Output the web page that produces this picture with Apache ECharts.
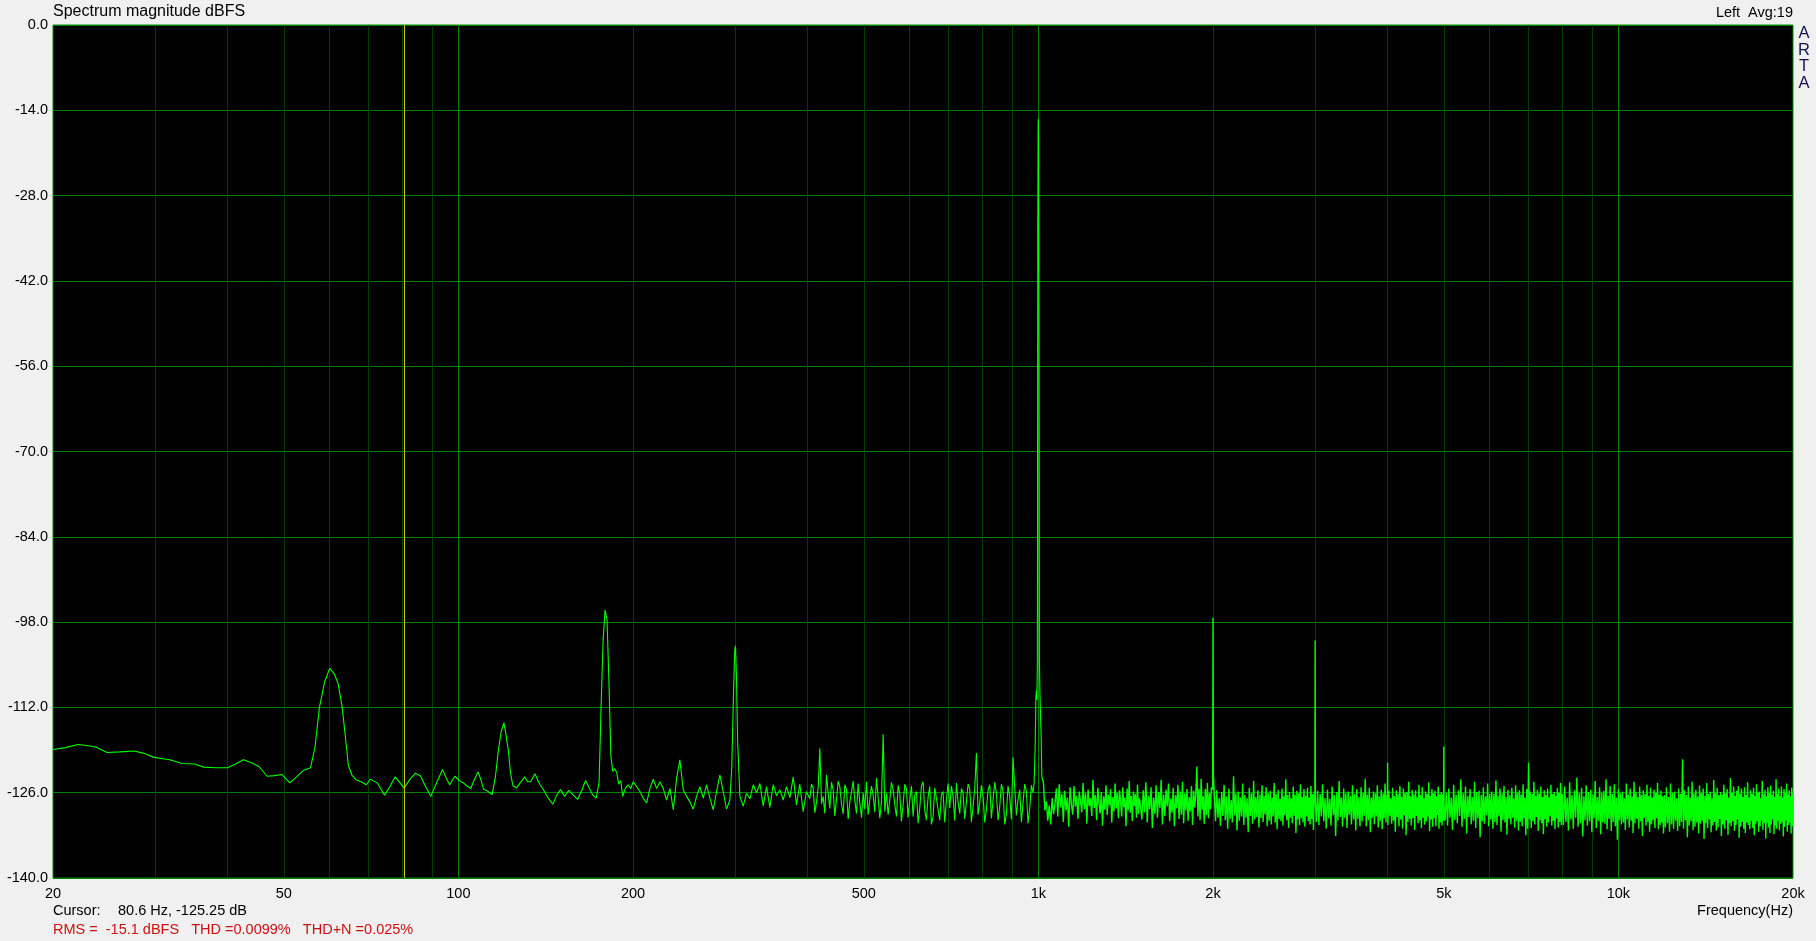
<!DOCTYPE html>
<html><head><meta charset="utf-8">
<script src="https://cdn.jsdelivr.net/npm/echarts@6.0.0/dist/echarts.min.js"></script>
<style>html,body{margin:0;padding:0;background:#f0f0f0;}#c{width:1816px;height:941px;}</style>
</head><body><div id="c"></div>
<script>
// ---------- DATA ----------
const xTickVals = [20, 50, 100, 200, 500, 1000, 2000, 5000, 10000, 20000];
const xTickText = ['20', '50', '100', '200', '500', '1k', '2k', '5k', '10k', '20k'];
const minorLines = [30, 40, 50, 60, 70, 80, 90, 200, 300, 400, 500, 600, 700, 800, 900, 2000, 3000, 4000, 5000, 6000, 7000, 8000, 9000];
const decadeLines = [100, 1000, 10000];
const cursorFreq = 80.6;

// 20 - 200 Hz (hum harmonics 60/120/180 Hz)
const lowPts = [[20,-118.9],[21,-118.6],[22.1,-118.1],[23,-118.3],[23.7,-118.5],[24.8,-119.4],[26.1,-119.3],[27.6,-119.15],[28.6,-119.5],[29.9,-120.2],[31.8,-120.6],[33.4,-121.2],[35.1,-121.3],[36.4,-121.8],[38.2,-121.9],[40,-121.9],[41.3,-121.3],[42.6,-120.6],[44,-121.1],[45.3,-121.7],[46.8,-123.3],[48.2,-123.2],[49.6,-123.0],[51.2,-124.4],[52.6,-123.4],[54.1,-122.3],[55.6,-121.9],[56.6,-118.5],[57.6,-112],[58.8,-107.8],[60,-105.6],[61,-106.4],[62,-108],[63,-111.8],[63.8,-116.5],[64.6,-121.5],[65.5,-123.1],[66.7,-123.9],[68,-124.2],[69.4,-124.7],[70.5,-123.8],[71.5,-124.1],[72.5,-124.4],[73.5,-125.4],[74.6,-126.4],[76.2,-125],[77.8,-123.4],[79.2,-124.3],[80.6,-125.25],[82.4,-123.9],[84.3,-122.8],[86,-123.2],[87.8,-125],[89.6,-126.6],[91.8,-124.3],[93.9,-122.2],[95.2,-123.5],[96.6,-124.7],[98.6,-123.3],[100.3,-124],[102,-124.4],[103.5,-124.9],[105,-125.3],[106.6,-123.8],[108.1,-122.6],[109.3,-123.8],[110.5,-125.4],[112.5,-125.8],[114.3,-126.3],[115.8,-123.5],[117.2,-119],[118.5,-116],[119.8,-114.5],[120.8,-116.5],[121.9,-119],[123,-122.8],[124.2,-124.9],[126,-125.2],[128,-124.3],[130.1,-123.4],[131.6,-124.2],[133.2,-124.2],[135.5,-122.9],[137.9,-124.5],[140.3,-125.6],[142.9,-126.9],[145.5,-127.9],[147.8,-126.4],[150,-125.5],[152.5,-126.6],[155,-125.6],[157.5,-126.3],[160.5,-127.1],[163.2,-125.6],[165.7,-124],[168,-125.2],[170.5,-126.4],[172.8,-126.9],[174.8,-124.3],[176.2,-112],[177.6,-101],[179,-96],[180.4,-97.6],[181.8,-108],[183.2,-120],[184.5,-122.5],[186,-122.1],[187.5,-122.7],[189,-124.6],[190.5,-124],[192,-126.6],[194,-125.3],[196.2,-124.7],[198.2,-125.3]];

// 200 - 980 Hz
const midPts = [[200.2,-124.2],[202.9,-125],[205.6,-125.8],[208.3,-126.9],[211.1,-127.7],[213.9,-125.3],[216.7,-123.8],[219.6,-125.3],[222.6,-124.2],[225.5,-125.3],[228.5,-127.2],[231.6,-125.3],[234.7,-128.8],[237.8,-123.6],[240.9,-120.6],[244.1,-125.5],[247.4,-126.6],[250.7,-127.5],[254,-128.7],[257.4,-126.6],[260.8,-125],[264.3,-126.9],[267.8,-124.7],[271.4,-126.9],[275,-128.8],[278.7,-125.8],[282.4,-123.1],[286.1,-125.8],[289.9,-128.7],[293.8,-127.2],[296,-122],[298,-110],[299.5,-102.6],[300.4,-101.9],[301.6,-107],[303,-117.5],[305.7,-126.6],[309.8,-128.2],[313.9,-126.1],[318.1,-127],[322.3,-124.7],[326.6,-126],[331,-124.5],[335.4,-128.2],[339.8,-125],[344.3,-128.4],[348.9,-124.7],[353.6,-126.5],[358.3,-125.5],[363.1,-127.2],[367.9,-125],[372.8,-126.8],[377.8,-123.4],[382.8,-128],[387.8,-124.6],[393,-129.1],[398.2,-125.8],[403.5,-127],[408.9,-125.2],[414.4,-127.5],[419.9,-118.7],[425.5,-126.6],[431.2,-123.1],[436.9,-128.6],[442.7,-125.5],[448.6,-127.2],[454.6,-125],[460.6,-129.5],[466.8,-125.5],[473,-127.5],[479.3,-124.1],[485.7,-129.4],[492.1,-127.7],[498.7,-126],[505.3,-124.2],[512,-127.2],[518.9,-126.4],[525.8,-123.6],[532.8,-130.2],[539.9,-116.4],[547.1,-126.1],[554.3,-127.2],[561.7,-125.5],[569.2,-129.9],[576.7,-126.1],[584.4,-128],[592.2,-125.3],[600.1,-127.2],[608.1,-129.9],[616.2,-125.8],[624.4,-128.5],[632.7,-124.2],[641.1,-130.5],[649.6,-125],[658.3,-129.9],[667.1,-126.9],[675.9,-130.5],[684.9,-125.8],[694.1,-127.2],[703.3,-128.5],[712.7,-126.6],[722.2,-124.4],[731.8,-129.4],[741.5,-126.1],[751.4,-127.5],[761.4,-125.3],[771.5,-128.3],[781.8,-119.5],[792.2,-127.7],[802.8,-126.6],[813.5,-128.8],[824.3,-124.7],[835.3,-127.2],[846.4,-126.1],[857.6,-128.3],[869,-125.8],[880.6,-129.5],[892.3,-126.6],[904.2,-120.2],[916.3,-129.7],[928.5,-125.5],[940.8,-127.7],[953.4,-125.8],[966.1,-128.6],[978.9,-126]];
const midPts2 = [[406.2,-124.6],[411.6,-129.3],[417.2,-125.1],[422.7,-127.8],[428.3,-129.4],[434.1,-126.2],[439.8,-124.3],[445.6,-129.8],[451.6,-124.1],[457.6,-127.9],[463.7,-124.7],[469.9,-130.3],[476.1,-125.9],[482.5,-127.3],[488.9,-124.5],[495.4,-130.1],[502,-128.7],[508.7,-129.6],[515.4,-124.9],[522.3,-129.2],[529.3,-126.8],[536.3,-127.5],[543.5,-129.1],[550.7,-129.6],[558,-124.3],[565.4,-127.9],[573,-124.8],[580.5,-130.7],[588.3,-124.6],[596.1,-130.1],[604.1,-124.9],[612.1,-126.4],[620.3,-131],[628.5,-124.9],[636.9,-128.9],[645.4,-126.7],[653.9,-131.2],[662.7,-125.2],[671.5,-128.8],[680.4,-126.3],[689.4,-130.9],[698.7,-124.5],[708,-124.9],[717.4,-130.6],[727,-127.6],[736.7,-125.3],[746.4,-130.3],[756.4,-124.6],[766.5,-130.8],[776.6,-125.4],[787,-129.6],[797.5,-124.8],[808.1,-130.9],[818.9,-125.6],[829.8,-130.2],[840.8,-124.3],[852,-130.5],[863.3,-124.6],[874.8,-131.2],[886.4,-124.9],[898.2,-130.4],[910.2,-125.2],[922.4,-127.1],[934.7,-130.8],[947,-124.6],[959.7,-131],[972.5,-124.8]];

// 1 kHz test tone
const fundamentalPts = [[983,-124.5],[987,-119],[990,-110.5],[992,-109.2],[994,-110.8],[996,-104],[997.5,-33.3],[999,-16.5],[1000,-15.4],[1001,-21],[1002.5,-48.6],[1004,-104],[1006,-109.6],[1008,-112.5],[1011,-117],[1014,-123.5]];

// distortion harmonics
const harmonicPts = [[1997,-125.5],[2000,-97.3],[2003,-123],[2997,-127],[3000,-101],[3003,-127.5],[3997,-127],[4000,-121.1],[4003,-128],[4996,-127],[5000,-118.4],[5004,-128]];

// noise floor, 1 k - 20 k
const band1kF = [1020,1026,1032,1038,1044,1050,1056,1062,1068,1074,1080,1086,1092,1098,1104,1110,1116,1122,1128,1134,1140,1146,1152,1158,1164,1170,1176,1182,1188,1194,1200,1206,1212,1218,1224,1230,1236,1242,1248,1254,1260,1266,1272,1278,1284,1290,1296,1302,1308,1314,1320,1326,1332,1338,1344,1350,1356,1362,1368,1374,1380,1386,1392,1398,1404,1410,1416,1422,1428,1434,1440,1446,1452,1458,1464,1470,1476,1482,1488,1494,1500];
const band1kV = [-124.2,-128.9,-127.4,-130.6,-128.1,-131.2,-126.9,-129.5,-127.8,-125.3,-129.9,-124.6,-128.4,-126.2,-130.8,-125.7,-128.9,-126.8,-131.6,-125.1,-127.9,-129.6,-124.9,-128.3,-126.5,-130.3,-125.8,-127.4,-129.2,-124.4,-128.7,-126.1,-131.1,-125.5,-128.2,-126.9,-129.8,-123.9,-128.5,-126.4,-130.5,-125.2,-127.7,-129.4,-125.9,-131.4,-126.6,-128.8,-124.8,-129.7,-126.3,-128.1,-125.4,-130.9,-126.7,-129.1,-124.5,-128.6,-126,-130.2,-125.6,-127.5,-129.9,-125.1,-128.4,-126.8,-131.5,-125.3,-128.9,-124.1,-129.3,-126.5,-130.7,-125.8,-128.2,-126.2,-130.1,-124.7,-129.5,-126.9,-128.3];
const band15F = [1508,1516,1524,1532,1540,1548,1556,1564,1572,1580,1588,1596,1604,1612,1620,1628,1636,1644,1652,1660,1668,1676,1684,1692,1700,1708,1716,1724,1732,1740,1748,1756,1764,1772,1780,1788,1796,1804,1812,1820,1828,1836,1844,1852,1860,1868,1876,1884,1892,1900,1908,1916,1924,1932,1940,1948,1956,1964,1972,1980,1988];
const band15V = [-130.4,-125.6,-129.2,-124.3,-130.9,-126.5,-128.7,-125.1,-131.8,-126.8,-129.5,-124.8,-130.1,-125.9,-128.5,-123.9,-131.2,-126.3,-129.8,-125.5,-128.2,-124.5,-130.7,-126.9,-129.3,-125.2,-131.5,-126.4,-128.6,-124.7,-130.3,-125.8,-129.6,-124.2,-131,-126.1,-128.9,-125.4,-130.6,-126.7,-129.1,-124.9,-131.3,-125.7,-128.4,-126.2,-121.7,-129.9,-125.3,-130.5,-123.7,-128.8,-126.6,-131.1,-125.4,-129.7,-124.4,-130.2,-126,-128.7,-125.1];
const band2kF = [2010,2020,2030,2040,2050,2060,2070,2080,2090,2100,2110,2120,2130,2140,2150,2160,2170,2180,2190,2200,2210,2220,2230,2240,2250,2260,2270,2280,2290,2300,2310,2320,2330,2340,2350,2360,2370,2380,2390,2400,2410,2420,2430,2440,2450,2460,2470,2480,2490,2500,2510,2520,2530,2540,2550,2560,2570,2580,2590,2600,2610,2620,2630,2640,2650,2660,2670,2680,2690,2700,2710,2720,2730,2740,2750,2760,2770,2780,2790,2800,2810,2820,2830,2840,2850,2860,2870,2880,2890,2900,2910,2920,2930,2940,2950,2960,2970,2980,2990];
const band2kV = [-126.2,-130.7,-125.6,-130.1,-126.9,-131.4,-125.9,-129.8,-124.7,-130.5,-126.6,-131.9,-125.3,-130.3,-127.2,-130.9,-123.3,-129.7,-126.1,-132.2,-125.8,-130.6,-126.8,-129.9,-124.5,-131.3,-126.4,-130.1,-126.9,-132.5,-125.2,-129.8,-126.1,-131.1,-124.1,-130.4,-126.7,-130,-125.6,-131.7,-126.3,-130.2,-124.8,-130.8,-126.5,-129.6,-125.1,-131.5,-126,-130.6,-125.7,-131.2,-126.8,-129.9,-124.4,-130.9,-126.2,-132,-125.5,-130.3,-127,-130.7,-125.3,-131.4,-126.6,-129.7,-123.8,-130.5,-126.4,-131.8,-125.9,-130.1,-126.9,-131,-125,-129.8,-126.3,-132.6,-125.7,-130.4,-126.1,-131.3,-124.6,-130.2,-126.7,-130.9,-125.4,-131.6,-126.5,-129.9,-125.2,-130.7,-126.8,-131.2,-124.9,-130.3,-126.2,-132.1,-125.8];
const band3kF = [3015,3030,3045,3060,3075,3090,3105,3120,3135,3150,3165,3180,3195,3210,3225,3240,3255,3270,3285,3300,3315,3330,3345,3360,3375,3390,3405,3420,3435,3450,3465,3480,3495,3510,3525,3540,3555,3570,3585,3600,3615,3630,3645,3660,3675,3690,3705,3720,3735,3750,3765,3780,3795,3810,3825,3840,3855,3870,3885,3900,3915,3930,3945,3960,3975,3990,4005,4020,4035,4050,4065,4080,4095,4110,4125,4140,4155,4170,4185,4200,4215,4230,4245,4260,4275,4290,4305,4320,4335,4350,4365,4380,4395,4410,4425,4440,4455,4470,4485,4500,4515,4530,4545,4560,4575,4590,4605,4620,4635,4650,4665,4680,4695,4710,4725,4740,4755,4770,4785,4800,4815,4830,4845,4860,4875,4890,4905,4920,4935,4950,4965,4980,4995];
const band3kV = [-130.8,-125.7,-131.3,-126.2,-129.9,-124.6,-130.7,-126.9,-131.9,-125.5,-130.2,-127,-131.4,-125,-129.7,-126.4,-133.1,-125.9,-130.5,-124.1,-130,-126.8,-131.6,-125.3,-130.1,-126.1,-131.8,-125.8,-129.6,-126.5,-131.2,-124.8,-130.4,-126.2,-132.2,-125.4,-130.3,-126.7,-131.5,-125.1,-130.7,-126,-129.8,-123.7,-131.5,-126.3,-130.5,-125.2,-132.5,-126.8,-130.1,-125.8,-131.2,-126.1,-129.9,-124.8,-131.7,-126.6,-130.6,-125.5,-132,-126.1,-130.2,-124.5,-130.9,-126.4,-131.3,-125.7,-129.8,-126.9,-131.1,-125.2,-130.6,-126.5,-132.4,-125.6,-130,-126.2,-131.5,-124.9,-130.4,-126.7,-131.9,-125.3,-129.7,-126,-133,-125.9,-130.8,-124.2,-130.3,-126.6,-131.4,-125.5,-130.2,-126.3,-132.1,-125.6,-129.8,-126.8,-131,-124.7,-130.5,-126.4,-131.8,-125.1,-130.1,-126.9,-131.2,-125.8,-130.7,-126.2,-129.9,-124.3,-132.3,-126.5,-130.4,-125.4,-131.6,-126.1,-130.2,-125.7,-131.5,-126.6,-129.6,-125,-131.9,-126.3,-130.9,-125.9,-131.4,-126.2,-130.6];
const band5kF = [5025,5050,5075,5100,5125,5150,5175,5200,5225,5250,5275,5300,5325,5350,5375,5400,5425,5450,5475,5500,5525,5550,5575,5600,5625,5650,5675,5700,5725,5750,5775,5800,5825,5850,5875,5900,5925,5950,5975,6000,6025,6050,6075,6100,6125,6150,6175,6200,6225,6250,6275,6300,6325,6350,6375,6400,6425,6450,6475,6500,6525,6550,6575,6600,6625,6650,6675,6700,6725,6750,6775,6800,6825,6850,6875,6900,6925,6950,6975,7000,7025,7050,7075,7100,7125,7150,7175,7200,7225,7250,7275,7300,7325,7350,7375,7400,7425,7450,7475,7500,7525,7550,7575,7600,7625,7650,7675,7700,7725,7750,7775,7800,7825,7850,7875,7900,7925,7950,7975];
const band5kV = [-130.6,-126,-131.4,-125.3,-130.1,-126.8,-132.1,-124.7,-130.5,-126.3,-131,-125.6,-129.8,-123.8,-131.6,-126.1,-130.3,-125,-132.7,-126.5,-130,-125.4,-131.2,-126.7,-130.6,-124.2,-131.8,-125.9,-130.2,-125.7,-133.3,-126.4,-130.7,-125.1,-131.1,-126.6,-129.7,-124.5,-131.5,-126.2,-130.4,-125.8,-131.9,-126.2,-130.8,-124,-131.3,-126.5,-129.9,-125.3,-132.4,-126.1,-130.5,-124.9,-130.9,-126.7,-132.9,-125.5,-130.3,-126.4,-131.2,-125.2,-130.1,-126.9,-131.7,-124.8,-130.6,-126,-132.2,-125.6,-130.8,-126.3,-131.5,-124.6,-130.2,-126.8,-133,-125.4,-131.9,-121.1,-130.4,-125.8,-131.8,-126.2,-130.7,-124.2,-131.2,-126.5,-130,-125.5,-132.3,-126.1,-130.5,-125,-131,-126.7,-132.8,-125.6,-130.3,-126.4,-131.6,-125.3,-130.9,-126.8,-129.8,-124.7,-131.4,-126.2,-130.6,-125.9,-132,-126.5,-130.2,-125.2,-131.7,-126,-130.8,-124.4,-131.3];
const band8kF = [8000,8040,8080,8120,8160,8200,8240,8280,8320,8360,8400,8440,8480,8520,8560,8600,8640,8680,8720,8760,8800,8840,8880,8920,8960,9000,9040,9080,9120,9160,9200,9240,9280,9320,9360,9400,9440,9480,9520,9560,9600,9640,9680,9720,9760,9800,9840,9880,9920,9960,10000,10040,10080,10120,10160,10200,10240,10280,10320,10360,10400,10440,10480,10520,10560,10600,10640,10680,10720,10760,10800,10840,10880,10920,10960,11000,11040,11080,11120,11160,11200,11240,11280,11320,11360,11400,11440,11480,11520,11560,11600,11640,11680,11720,11760,11800,11840,11880,11920,11960];
const band8kV = [-126.2,-131.3,-125,-130.8,-126.8,-132.2,-124.3,-130.4,-126.4,-131.9,-125.6,-130.1,-123.5,-131.6,-126.1,-131,-125.2,-133.2,-126.6,-130.5,-124.8,-131.4,-125.9,-130.7,-125.5,-132.5,-126.3,-130.2,-124.1,-131.8,-126.7,-130.6,-125.1,-132.8,-126,-130.9,-125.7,-131.1,-123.8,-132,-126.5,-130.3,-124.9,-132.3,-126.2,-130.8,-124.6,-131.5,-126.8,-133.7,-125.4,-130.5,-126.1,-131.2,-125.8,-130.9,-126.9,-132.1,-124.5,-130.4,-126.3,-131.7,-125.3,-130.6,-126.6,-132.6,-124.2,-131,-125.9,-130.3,-126.7,-131.9,-125,-130.7,-126.4,-133.1,-125.6,-130.1,-126.2,-131.4,-124.7,-130.8,-126.5,-132.4,-125.2,-131.2,-126.8,-130.5,-125.5,-131.8,-126,-130.2,-124.4,-132,-126.3,-131.3,-125.7,-130.9,-126.6,-132.7];
const band12kF = [12000,12050,12100,12150,12200,12250,12300,12350,12400,12450,12500,12550,12600,12650,12700,12750,12800,12850,12900,12950,13000,13050,13100,13150,13200,13250,13300,13350,13400,13450,13500,13550,13600,13650,13700,13750,13800,13850,13900,13950,14000,14050,14100,14150,14200,14250,14300,14350,14400,14450,14500,14550,14600,14650,14700,14750,14800,14850,14900,14950,15000,15050,15100,15150,15200,15250,15300,15350,15400,15450,15500,15550,15600,15650,15700,15750,15800,15850,15900,15950,16000,16050,16100,16150,16200,16250,16300,16350,16400,16450,16500,16550,16600,16650,16700,16750,16800,16850,16900,16950,17000,17050,17100,17150,17200,17250,17300,17350,17400,17450,17500,17550,17600,17650,17700,17750,17800,17850,17900,17950,18000,18050,18100,18150,18200,18250,18300,18350,18400,18450,18500,18550,18600,18650,18700,18750,18800,18850,18900,18950,19000,19050,19100,19150,19200,19250,19300,19350,19400,19450,19500,19550,19600,19650,19700,19750,19800,19850,19900,19950,20000];
const band12kV = [-126.4,-131.7,-125.1,-131,-126.7,-132.4,-124.5,-131.2,-126,-131.9,-125.8,-130.6,-126.9,-132.3,-125.3,-131.5,-126.2,-130.8,-120.5,-131.9,-125.6,-130.5,-126.4,-133.3,-125,-131.4,-126.8,-130.7,-124.2,-132.1,-126.1,-131.6,-125.5,-130.9,-126.6,-132.7,-124.8,-131.1,-126,-130.6,-125.3,-133.6,-126.5,-131,-124.4,-131.8,-126.2,-130.4,-125.8,-132.5,-126.9,-131.4,-123.9,-130.8,-126.1,-132.2,-125.2,-131.7,-126.4,-130.3,-125.9,-133.1,-126.3,-131.2,-124.7,-131.9,-126.1,-130.5,-125.4,-132.9,-126.8,-131,-123.6,-131.5,-126,-130.7,-125,-132.3,-126.5,-131.3,-125.7,-130.4,-124.9,-133.4,-126.2,-131.6,-125.3,-130.8,-126.7,-131.9,-125.1,-132.6,-126.4,-130.9,-124.3,-131.3,-126.8,-132,-125.6,-130.6,-126.2,-131.8,-125.2,-133,-126.5,-131.1,-124.6,-130.7,-126,-132.4,-125.8,-131.5,-126.9,-130.5,-124.1,-132.1,-126.3,-131,-125.5,-133.5,-126.6,-130.9,-125.1,-131.7,-126.1,-132.6,-124.8,-131.2,-126.4,-130.4,-125.7,-132.8,-126.7,-131.4,-123.8,-131.9,-126.2,-130.6,-125.3,-132.2,-126.5,-131.1,-125,-130.8,-126.8,-133.2,-125.4,-131.6,-126,-130.5,-124.5,-132.4,-126.3,-131.3,-125.6,-130.9,-126.6,-132.7,-125.2,-131.5,-126.1];

// ---------- BUILD ----------
function zipPts(f, v) { const out = []; const n = Math.min(f.length, v.length); for (let i = 0; i < n; i++) out.push([f[i], v[i]]); return out; }
let spectrum = [].concat(lowPts, midPts, midPts2, fundamentalPts, harmonicPts,
  zipPts(band1kF, band1kV), zipPts(band15F, band15V), zipPts(band2kF, band2kV),
  zipPts(band3kF, band3kV), zipPts(band5kF, band5kV), zipPts(band8kF, band8kV), zipPts(band12kF, band12kV));
spectrum.sort((a, b) => a[0] - b[0]);
const splitF = 1014;
const spectrumLow = spectrum.filter(p => p[0] <= splitF);
const spectrumHigh = spectrum.filter(p => p[0] >= splitF);

const FONT = '"Liberation Sans", Arial, sans-serif';
const labelMap = {};
xTickVals.forEach((v, i) => { labelMap[v] = xTickText[i]; });

function txt(x, y, text, size, color, align, valign) {
  return { type: 'text', silent: true, style: { x: x, y: y, text: text, font: size + 'px ' + FONT, fill: color,
    align: align, textAlign: align, verticalAlign: valign || 'middle', textVerticalAlign: valign || 'middle' } };
}

const chart = echarts.init(document.getElementById('c'), null, { renderer: 'canvas' });
chart.setOption({
  backgroundColor: '#f0f0f0',
  animation: false,
  grid: { left: 53, top: 25, right: 23, bottom: 63, show: true, backgroundColor: '#000000',
    borderColor: '#009000', borderWidth: 1, containLabel: false, outerBoundsMode: 'none' },
  xAxis: [
    { type: 'log', logBase: 10, min: 20, max: 20000, gridIndex: 0,
      axisLine: { show: false }, axisTick: { show: false, customValues: minorLines },
      splitLine: { show: true, lineStyle: { color: '#004000', width: 1 } },
      axisLabel: { customValues: xTickVals, color: '#000', fontSize: 14.5, fontFamily: FONT, margin: 8,
        formatter: function (v) { const r = Math.round(v); return labelMap[r] !== undefined ? labelMap[r] : ''; } } },
    { type: 'log', logBase: 10, min: 20, max: 20000, gridIndex: 0, position: 'bottom',
      axisLine: { show: false }, axisTick: { show: false, customValues: decadeLines },
      splitLine: { show: true, lineStyle: { color: '#008000', width: 1 } },
      axisLabel: { show: false } }
  ],
  yAxis: { type: 'value', min: -140, max: 0, interval: 14,
    axisLine: { show: false }, axisTick: { show: false },
    splitLine: { show: true, lineStyle: { color: '#008000', width: 1 } },
    axisLabel: { color: '#000', fontSize: 14.5, fontFamily: FONT, margin: 5, formatter: function (v) { return v.toFixed(1); } } },
  series: [{
    type: 'line', xAxisIndex: 0, yAxisIndex: 0, data: spectrumLow, showSymbol: false, symbol: 'none',
    lineStyle: { color: '#00ff00', width: 1.1 }, clip: true, silent: true,
    markLine: { silent: true, animation: false, symbol: ['none', 'none'], label: { show: false },
      lineStyle: { color: '#c8c800', width: 1, type: 'solid' }, data: [{ xAxis: cursorFreq }] }
  }, {
    type: 'line', xAxisIndex: 0, yAxisIndex: 0, data: spectrumHigh, showSymbol: false, symbol: 'none',
    lineStyle: { color: '#00ff00', width: 1.4 }, clip: true, silent: true
  }],
  graphic: [
    txt(53, 12, 'Spectrum magnitude dBFS', 16, '#000', 'left'),
    txt(1793, 13, 'Left  Avg:19', 14.5, '#000', 'right'),
    txt(1804, 33, 'A', 16.5, '#141450', 'center'),
    txt(1804, 50, 'R', 16.5, '#141450', 'center'),
    txt(1804, 66, 'T', 16.5, '#141450', 'center'),
    txt(1804, 83, 'A', 16.5, '#141450', 'center'),
    txt(1793, 911, 'Frequency(Hz)', 14.5, '#000', 'right'),
    txt(53, 911, 'Cursor:', 14.5, '#000', 'left'),
    txt(118, 911, '80.6 Hz, -125.25 dB', 14.5, '#000', 'left'),
    txt(53, 930, 'RMS =  -15.1 dBFS   THD =0.0099%   THD+N =0.025%', 14.5, '#cc1111', 'left')
  ]
});
</script></body></html>
